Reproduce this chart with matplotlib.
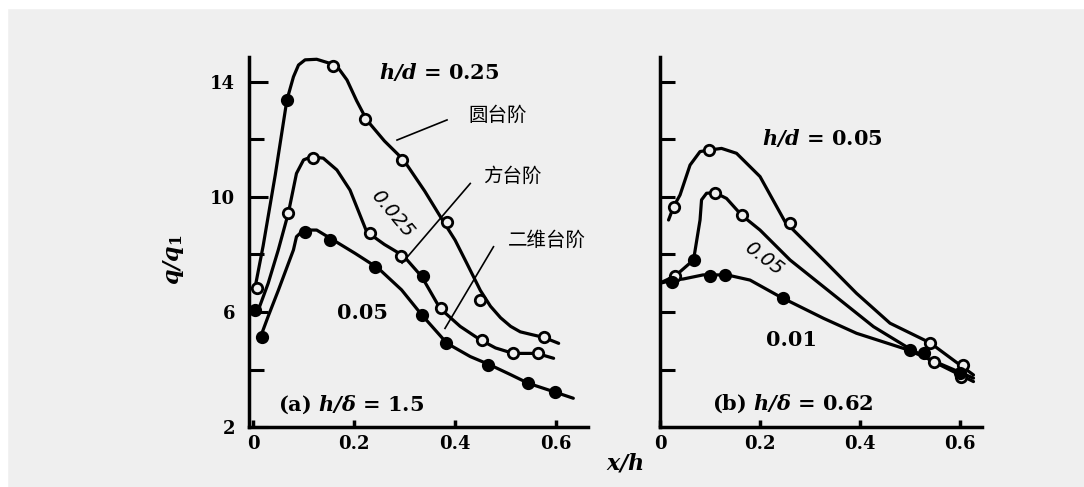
import matplotlib
matplotlib.use("Agg")
import matplotlib.pyplot as plt
from matplotlib.patches import Rectangle

plt.rcParams['font.family'] = ['DejaVu Serif']
plt.rcParams['mathtext.fontset'] = 'dejavuserif'

# ---- panel (a): h/delta = 1.5 ----
# smooth curves
a_round_x = [0.004, 0.02, 0.044, 0.067, 0.08, 0.09, 0.103, 0.126, 0.152, 0.169, 0.186, 0.205,
             0.225, 0.26, 0.298, 0.34, 0.377, 0.40, 0.423, 0.45, 0.47, 0.49, 0.51, 0.529,
             0.555, 0.575, 0.605]
a_round_y = [6.85, 8.3, 10.77, 13.37, 14.18, 14.59, 14.77, 14.79, 14.65, 14.48, 14.07, 13.35,
             12.68, 11.95, 11.29, 10.2, 9.14, 8.5, 7.7, 6.75, 6.2, 5.8, 5.5, 5.31,
             5.2, 5.12, 4.91]
a_square_x = [0.008, 0.03, 0.05, 0.07, 0.086, 0.1, 0.116, 0.139, 0.166, 0.192, 0.225, 0.26,
              0.298, 0.334, 0.37, 0.41, 0.45, 0.48, 0.515, 0.562, 0.595]
a_square_y = [5.95, 7.0, 8.16, 9.45, 10.82, 11.29, 11.4, 11.35, 10.94, 10.24, 8.79, 8.35,
              7.95, 7.23, 6.13, 5.5, 5.03, 4.75, 4.56, 4.56, 4.39]
a_2d_x = [0.012, 0.03, 0.05, 0.08, 0.086, 0.1, 0.126, 0.159, 0.202, 0.248, 0.294, 0.334,
          0.384, 0.43, 0.469, 0.51, 0.545, 0.595, 0.634]
a_2d_y = [5.0, 5.85, 6.75, 8.16, 8.62, 8.85, 8.85, 8.5, 8.04, 7.52, 6.77, 5.9,
          4.91, 4.45, 4.16, 3.82, 3.52, 3.23, 3.0]

# measured points (True = filled symbol)
a_round_px = [0.007, 0.068, 0.159, 0.222, 0.294, 0.383, 0.45, 0.575]
a_round_py = [6.82, 13.37, 14.55, 12.7, 11.29, 9.14, 6.42, 5.14]
a_round_fill = [False, True, False, False, False, False, False, False]
a_square_px = [0.004, 0.07, 0.119, 0.232, 0.293, 0.337, 0.372, 0.453, 0.515, 0.565]
a_square_py = [6.07, 9.45, 11.35, 8.74, 7.95, 7.25, 6.13, 5.03, 4.56, 4.56]
a_square_fill = [True, False, False, False, False, True, False, False, False, False]
a_2d_px = [0.017, 0.103, 0.152, 0.242, 0.334, 0.382, 0.465, 0.545, 0.598]
a_2d_py = [5.14, 8.79, 8.5, 7.58, 5.9, 4.91, 4.16, 3.52, 3.23]
a_2d_fill = [True] * 9

# ---- panel (b): h/delta = 0.62 ----
b_top_x = [0.017, 0.027, 0.04, 0.06, 0.08, 0.097, 0.123, 0.153, 0.2, 0.25, 0.327, 0.393,
           0.46, 0.54, 0.627]
b_top_y = [9.2, 9.66, 10.07, 11.11, 11.58, 11.63, 11.69, 11.52, 10.71, 9.14, 7.81, 6.65,
           5.61, 4.93, 3.81]
b_mid_x = [0.005, 0.03, 0.067, 0.08, 0.083, 0.093, 0.11, 0.133, 0.163, 0.2, 0.26, 0.36,
           0.427, 0.493, 0.547, 0.627]
b_mid_y = [7.05, 7.25, 7.81, 9.2, 9.9, 10.13, 10.15, 9.95, 9.37, 8.85, 7.81, 6.42,
           5.49, 4.79, 4.27, 3.58]
b_low_x = [0.0, 0.027, 0.047, 0.086, 0.134, 0.18, 0.24, 0.327, 0.393, 0.493, 0.627]
b_low_y = [7.0, 7.11, 7.15, 7.29, 7.29, 7.11, 6.53, 5.78, 5.26, 4.7, 3.7]

b_top_px = [0.027, 0.097, 0.26, 0.54, 0.607]
b_top_py = [9.66, 11.63, 9.11, 4.93, 4.16]
b_top_fill = [False] * 5
b_mid_px = [0.03, 0.067, 0.11, 0.163, 0.547, 0.603]
b_mid_py = [7.25, 7.81, 10.15, 9.37, 4.27, 3.75]
b_mid_fill = [False, True, False, False, False, False]
b_low_px = [0.023, 0.1, 0.13, 0.245, 0.5, 0.527, 0.6]
b_low_py = [7.05, 7.25, 7.29, 6.48, 4.68, 4.56, 3.89]
b_low_fill = [True] * 7

fig = plt.figure(figsize=(10.84, 4.87), dpi=100, facecolor='#efefef')
# white scan margins
fig.patches.append(Rectangle((0, 0.984), 1, 0.02, transform=fig.transFigure,
                             color='white', zorder=-1))
fig.patches.append(Rectangle((0, 0), 0.006, 1, transform=fig.transFigure,
                             color='white', zorder=-1))

ax_a = fig.add_axes([0.2297, 0.1232, 0.3127, 0.7598])
ax_b = fig.add_axes([0.6089, 0.1232, 0.2970, 0.7598])

tick_font = dict(family='DejaVu Serif', weight='bold', size=13)


def draw(ax, xs, ys, px, py, fill):
    ax.plot(xs, ys, color='black', lw=2.3, solid_capstyle='round',
            solid_joinstyle='round', zorder=2)
    for x, y, f in zip(px, py, fill):
        ax.plot(x, y, marker='o', ms=7.5, mew=2.0, mec='black',
                mfc='black' if f else '#efefef', zorder=3)


for ax in (ax_a, ax_b):
    ax.set_facecolor('none')
    for s in ('top', 'right'):
        ax.spines[s].set_visible(False)
    for s in ('left', 'bottom'):
        ax.spines[s].set_linewidth(2.5)
    ax.set_ylim(2, 14.87)
    ax.set_xticks([0, 0.2, 0.4, 0.6])
    ax.set_xticklabels(['0', '0.2', '0.4', '0.6'], fontdict=tick_font)
    ax.tick_params(axis='x', direction='in', length=5, width=2.5, pad=6)

# panel a
draw(ax_a, a_round_x, a_round_y, a_round_px, a_round_py, a_round_fill)
draw(ax_a, a_square_x, a_square_y, a_square_px, a_square_py, a_square_fill)
draw(ax_a, a_2d_x, a_2d_y, a_2d_px, a_2d_py, a_2d_fill)
ax_a.set_xlim(-0.008, 0.663)
ax_a.set_yticks([2, 6, 10, 14])
ax_a.set_yticklabels(['2', '6', '10', '14'], fontdict=tick_font)
ax_a.set_yticks([4, 8, 12], minor=True)
ax_a.tick_params(axis='y', which='major', direction='in', length=14, width=2.2, pad=10)
ax_a.tick_params(axis='y', which='minor', direction='in', length=11, width=2.2)

bold = dict(family='DejaVu Serif', weight='bold', size=15)
ax_a.text(0.25, 14.35, r'$\mathbfit{h/d}$ = 0.25', va='center', ha='left', **bold)
ax_a.text(0.216, 5.97, '0.05', va='center', ha='center', **bold)
ax_a.text(0.05, 2.77, r'(a) $\mathbfit{h/\delta}$ = 1.5', va='center', ha='left', **bold)
ax_a.text(0.275, 9.43, '0.025', rotation=-50, va='center', ha='center',
          family='DejaVu Sans', style='italic', size=14)

cjk = dict(family=['Noto Sans CJK SC', 'DejaVu Sans'], size=14, va='center', ha='left')
ax_a.text(0.426, 12.85, '圆台阶', **cjk)
ax_a.text(0.455, 10.7, '方台阶', **cjk)
ax_a.text(0.505, 8.5, '二维台阶', **cjk)
ax_a.plot([0.384, 0.285], [12.68, 11.98], color='black', lw=1.2)
ax_a.plot([0.43, 0.295], [10.47, 7.7], color='black', lw=1.2)
ax_a.plot([0.476, 0.38], [8.27, 5.43], color='black', lw=1.2)

# panel b
draw(ax_b, b_top_x, b_top_y, b_top_px, b_top_py, b_top_fill)
draw(ax_b, b_mid_x, b_mid_y, b_mid_px, b_mid_py, b_mid_fill)
draw(ax_b, b_low_x, b_low_y, b_low_px, b_low_py, b_low_fill)
ax_b.set_xlim(0, 0.644)
ax_b.set_yticks([4, 6, 8, 10, 12, 14])
ax_b.set_yticklabels([])
ax_b.tick_params(axis='y', direction='in', length=11, width=2.2)

ax_b.text(0.203, 12.04, r'$\mathbfit{h/d}$ = 0.05', va='center', ha='left', **bold)
ax_b.text(0.263, 5.03, '0.01', va='center', ha='center', **bold)
ax_b.text(0.103, 2.82, r'(b) $\mathbfit{h/\delta}$ = 0.62', va='center', ha='left', **bold)
ax_b.text(0.207, 7.87, '0.05', rotation=-37, va='center', ha='center',
          family='DejaVu Sans', style='italic', size=14)

fig.text(0.577, 0.049, r'$\mathbfit{x/h}$', ha='center', va='center', size=16)
fig.text(0.160, 0.466, r'$\mathbfit{q/q}_\mathbf{1}$', ha='center', va='center',
         size=16, rotation=90)

fig.savefig('out.png', dpi=100, facecolor=fig.get_facecolor())
